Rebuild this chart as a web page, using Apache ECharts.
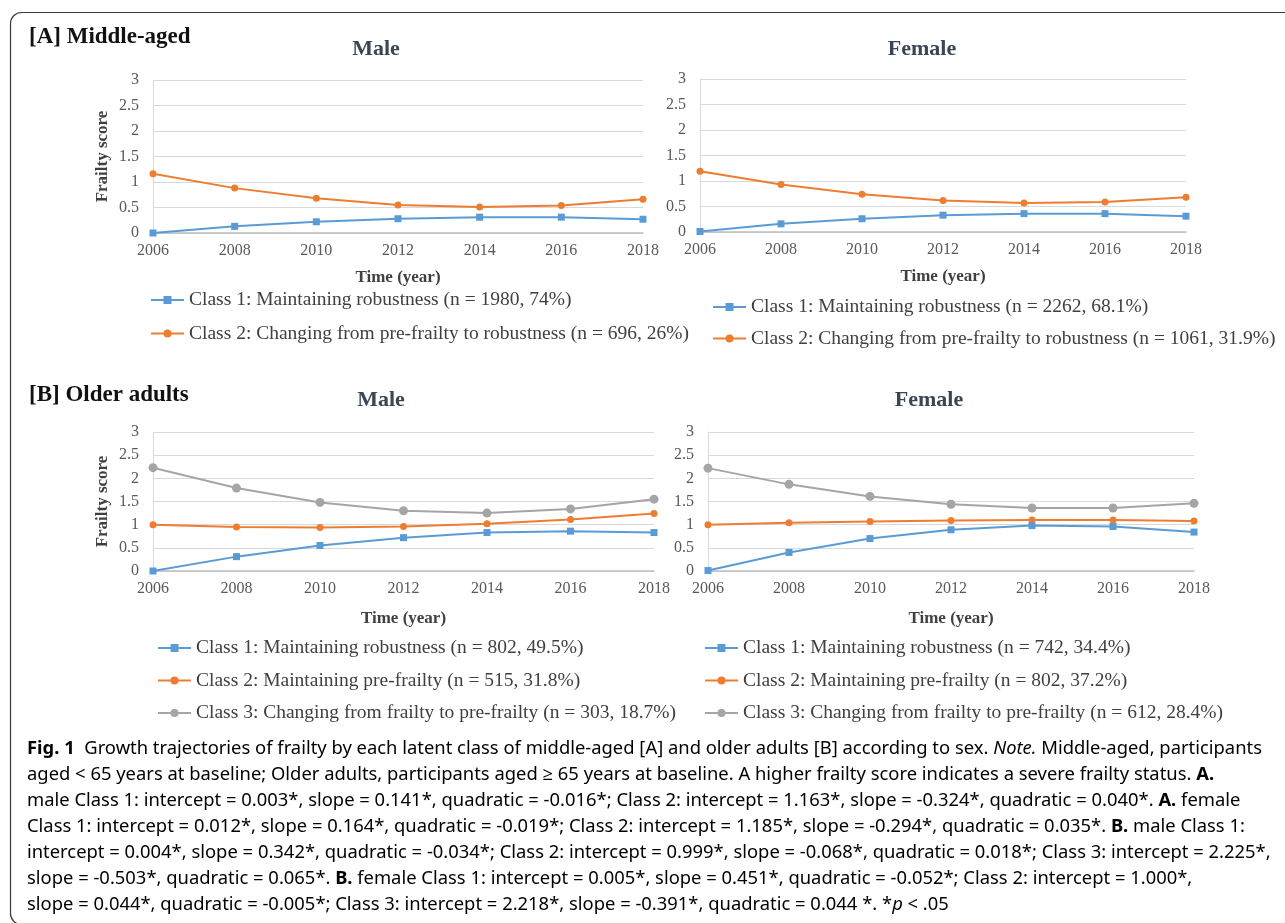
<!DOCTYPE html>
<html>
<head>
<meta charset="utf-8">
<script src="https://cdn.jsdelivr.net/npm/echarts@6/dist/echarts.min.js"></script>
<style>
html,body{margin:0;padding:0;background:#fff;}
#chart{width:1285px;height:923px;}
</style>
</head>
<body>
<div id="chart"></div>
<script>
// ---------- data ----------
var years = ['2006', '2008', '2010', '2012', '2014', '2016', '2018'];
var yTicks = [0, 0.5, 1, 1.5, 2, 2.5, 3];

var aMaleNames = ['Class 1: Maintaining robustness (n = 1980, 74%)',
                  'Class 2: Changing from pre-frailty to robustness (n = 696, 26%)'];
var aMaleC1 = [0.00, 0.13, 0.22, 0.28, 0.31, 0.31, 0.27];
var aMaleC2 = [1.16, 0.88, 0.68, 0.55, 0.51, 0.54, 0.66];

var aFemaleNames = ['Class 1: Maintaining robustness (n = 2262, 68.1%)',
                    'Class 2: Changing from pre-frailty to robustness (n = 1061, 31.9%)'];
var aFemaleC1 = [0.01, 0.16, 0.26, 0.33, 0.36, 0.36, 0.31];
var aFemaleC2 = [1.19, 0.93, 0.74, 0.62, 0.57, 0.59, 0.68];

var bMaleNames = ['Class 1: Maintaining robustness (n = 802, 49.5%)',
                  'Class 2: Maintaining pre-frailty (n = 515, 31.8%)',
                  'Class 3: Changing from frailty to pre-frailty (n = 303, 18.7%)'];
var bMaleC1 = [0.00, 0.31, 0.55, 0.72, 0.83, 0.86, 0.83];
var bMaleC2 = [1.00, 0.95, 0.94, 0.96, 1.02, 1.11, 1.24];
var bMaleC3 = [2.23, 1.79, 1.48, 1.30, 1.25, 1.34, 1.55];

var bFemaleNames = ['Class 1: Maintaining robustness (n = 742, 34.4%)',
                    'Class 2: Maintaining pre-frailty (n = 802, 37.2%)',
                    'Class 3: Changing from frailty to pre-frailty (n = 612, 28.4%)'];
var bFemaleC1 = [0.01, 0.40, 0.70, 0.89, 0.98, 0.96, 0.84];
var bFemaleC2 = [1.00, 1.04, 1.07, 1.09, 1.10, 1.10, 1.08];
var bFemaleC3 = [2.22, 1.87, 1.61, 1.44, 1.36, 1.36, 1.46];

var captionLines = [
  [['b', 'Fig. 1'], ['', '  Growth trajectories of frailty by each latent class of middle-aged [A] and older adults [B] according to sex. '], ['i', 'Note.'], ['', ' Middle-aged, participants']],
  [['', 'aged < 65 years at baseline; Older adults, participants aged \u2265 65 years at baseline. A higher frailty score indicates a severe frailty status. '], ['b', 'A.']],
  [['', 'male Class 1: intercept = 0.003*, slope = 0.141*, quadratic = -0.016*; Class 2: intercept = 1.163*, slope = -0.324*, quadratic = 0.040*. '], ['b', 'A.'], ['', ' female']],
  [['', 'Class 1: intercept = 0.012*, slope = 0.164*, quadratic = -0.019*; Class 2: intercept = 1.185*, slope = -0.294*, quadratic = 0.035*. '], ['b', 'B.'], ['', ' male Class 1:']],
  [['', 'intercept = 0.004*, slope = 0.342*, quadratic = -0.034*; Class 2: intercept = 0.999*, slope = -0.068*, quadratic = 0.018*; Class 3: intercept = 2.225*,']],
  [['', 'slope = -0.503*, quadratic = 0.065*. '], ['b', 'B.'], ['', ' female Class 1: intercept = 0.005*, slope = 0.451*, quadratic = -0.052*; Class 2: intercept = 1.000*,']],
  [['', 'slope = 0.044*, quadratic = -0.005*; Class 3: intercept = 2.218*, slope = -0.391*, quadratic = 0.044 *. *'], ['i', 'p'], ['', ' < .05']]
];

// ---------- styles ----------
var BLUE = '#5B9BD5', ORANGE = '#ED7D31', GRAY = '#A5A5A5';
var SERIF = '"Liberation Serif", "Times New Roman", serif';
var SANS = '"Noto Sans", "Open Sans", sans-serif';
var CAP_SIZE = 18;

var panels = [
  {grid: {left: 153, top: 80, width: 490, height: 153}, yName: 'Frailty score', xGap: 36,
   names: aMaleNames, data: [aMaleC1, aMaleC2]},
  {grid: {left: 700, top: 79, width: 486, height: 153}, yName: '', xGap: 36,
   names: aFemaleNames, data: [aFemaleC1, aFemaleC2]},
  {grid: {left: 153, top: 432, width: 501, height: 139}, yName: 'Frailty score', xGap: 39,
   names: bMaleNames, data: [bMaleC1, bMaleC2, bMaleC3]},
  {grid: {left: 708, top: 432, width: 486, height: 139}, yName: '', xGap: 39,
   names: bFemaleNames, data: [bFemaleC1, bFemaleC2, bFemaleC3]}
];
var seriesStyle = [
  {color: BLUE, symbol: 'rect', size: 7},
  {color: ORANGE, symbol: 'circle', size: 7},
  {color: GRAY, symbol: 'circle', size: 9}
];

var grids = [], xAxes = [], yAxes = [], series = [];
panels.forEach(function (p, i) {
  grids.push(p.grid);
  xAxes.push({
    type: 'category', gridIndex: i, data: years, boundaryGap: false,
    axisTick: {show: false},
    axisLine: {lineStyle: {color: '#bfbfbf', width: 1.5}},
    axisLabel: {color: '#595959', fontFamily: SERIF, fontSize: 16, margin: 10},
    name: 'Time (year)', nameLocation: 'middle', nameGap: p.xGap,
    nameTextStyle: {fontFamily: SERIF, fontSize: 17, fontWeight: 'bold', color: '#404040'}
  });
  yAxes.push({
    type: 'value', gridIndex: i, min: yTicks[0], max: yTicks[yTicks.length - 1],
    interval: yTicks[1] - yTicks[0],
    axisLine: {show: true, lineStyle: {color: '#d9d9d9', width: 1}},
    axisTick: {show: false},
    splitLine: {lineStyle: {color: '#d9d9d9', width: 1}},
    axisLabel: {color: '#595959', fontFamily: SERIF, fontSize: 16, margin: 14},
    name: p.yName, nameLocation: 'middle', nameGap: 42, nameRotate: 90,
    nameTextStyle: {fontFamily: SERIF, fontSize: 17, fontWeight: 'bold', color: '#404040'}
  });
  p.data.forEach(function (d, k) {
    var st = seriesStyle[k];
    series.push({
      type: 'line', name: p.names[k], xAxisIndex: i, yAxisIndex: i, data: d,
      symbol: st.symbol, symbolSize: st.size, showSymbol: true,
      itemStyle: {color: st.color}, lineStyle: {color: st.color, width: 2},
      z: 3 - k
    });
  });
});

var legendText = {fontFamily: SERIF, fontSize: 19.5, color: '#404040'};
function mkLegend(names, left, top, gap) {
  return {data: names, orient: 'vertical', left: left, top: top, itemWidth: 33, itemHeight: 10,
    itemGap: gap, textStyle: legendText, selectedMode: false, padding: 0};
}
var legends = [
  mkLegend(aMaleNames, 150, 290, 13.5),
  mkLegend(aFemaleNames, 712, 297, 11.5),
  mkLegend(bMaleNames, 157, 638, 12.5),
  mkLegend(bFemaleNames, 704, 638, 12.5)
];

// caption measurement to emulate a condensed face
var cv = document.createElement('canvas').getContext('2d');
function segFont(t) {
  return (t === 'i' ? 'italic ' : '') + (t === 'b' ? 'bold ' : '') + CAP_SIZE + 'px ' + SANS;
}
var w1 = 0;
captionLines[0].forEach(function (s) { cv.font = segFont(s[0]); w1 += cv.measureText(s[1]).width; });
var capScale = 1235 / w1;

var richCap = {
  n: {fontFamily: SANS, fontSize: CAP_SIZE, color: '#231f20'},
  b: {fontFamily: SANS, fontSize: CAP_SIZE, fontWeight: 'bold', color: '#231f20'},
  i: {fontFamily: SANS, fontSize: CAP_SIZE, fontStyle: 'italic', color: '#231f20'}
};

var graphics = [
  {type: 'rect', left: 8, top: 10, z: -10, silent: true,
   shape: {x: 0, y: 0, width: 1300, height: 912, r: 11},
   style: {fill: 'none', stroke: '#3a3a3a', lineWidth: 1.2}}
];
function label(text, x, y, size, align, color) {
  graphics.push({type: 'text', x: x, y: y, silent: true,
    style: {text: text, fontFamily: SERIF, fontSize: size, fontWeight: 'bold',
      fill: color, align: align, verticalAlign: 'middle'}});
}
label('[A] Middle-aged', 29, 37, 23, 'left', '#111');
label('[B] Older adults', 29, 395, 23, 'left', '#111');
label('Male', 376, 49, 22, 'center', '#3a4556');
label('Female', 922, 49, 22, 'center', '#3a4556');
label('Male', 381, 400, 22, 'center', '#3a4556');
label('Female', 929, 400, 22, 'center', '#3a4556');

captionLines.forEach(function (line, r) {
  var txt = line.map(function (s) {
    var t = s[0] || 'n';
    return '{' + t + '|' + s[1] + '}';
  }).join('');
  graphics.push({type: 'text', x: 27, y: 749 + r * 26, scaleX: capScale, silent: true,
    style: {text: txt, rich: richCap, verticalAlign: 'middle', align: 'left'}});
});

var chart = echarts.init(document.getElementById('chart'), null, {renderer: 'canvas'});
chart.setOption({
  animation: false,
  backgroundColor: '#ffffff',
  grid: grids, xAxis: xAxes, yAxis: yAxes, series: series,
  legend: legends, graphic: graphics
});
</script>
</body>
</html>
